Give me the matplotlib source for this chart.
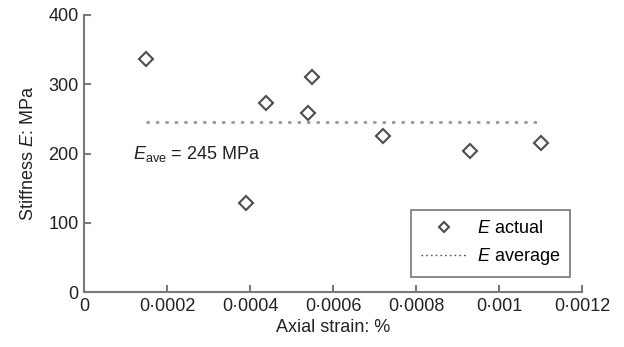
import matplotlib
matplotlib.use('Agg')
import matplotlib.pyplot as plt
from matplotlib.ticker import FuncFormatter

plt.rcParams['font.family'] = ['Liberation Sans', 'DejaVu Sans']
plt.rcParams['mathtext.fontset'] = 'custom'
plt.rcParams['mathtext.rm'] = 'Liberation Sans'
plt.rcParams['mathtext.it'] = 'Liberation Sans:italic'

# data
strain = [0.00015, 0.00039, 0.000437, 0.00054, 0.00055, 0.00072, 0.00093, 0.0011]
stiffness = [336, 128, 273, 258, 310, 226, 204, 215]
e_ave = 245
ave_x = [0.00015, 0.0011]
x_ticks = [0, 0.0002, 0.0004, 0.0006, 0.0008, 0.001, 0.0012]
y_ticks = [0, 100, 200, 300, 400]

axis_col = '#7a7a7a'
mark_col = '#4d4d4d'
txt_col = '#222222'
fs = 13

fig = plt.figure(figsize=(6.24, 3.47), dpi=100)
ax = fig.add_axes([0.135, 0.158, 0.798, 0.799])

ax.plot(strain, stiffness, linestyle='none', marker='D', markersize=7,
        markerfacecolor='white', markeredgecolor=mark_col, markeredgewidth=1.5,
        label='$E$ actual')
ax.plot(ave_x, [e_ave, e_ave], linestyle=(0, (1.2, 2.2)), color='#999999',
        linewidth=2, label='$E$ average')

ax.text(0.000118, 199, r'$E_{\mathrm{ave}}$ = %d MPa' % e_ave, fontsize=fs,
        va='center', ha='left', color=txt_col)

ax.set_xlim(0, 0.0012)
ax.set_ylim(0, 400)
ax.set_xticks(x_ticks)
ax.set_yticks(y_ticks)
ax.xaxis.set_major_formatter(FuncFormatter(lambda v, p: '0' if v == 0 else ('%g' % v).replace('.', '\u00b7')))

for s in ['top', 'right']:
    ax.spines[s].set_visible(False)
for s in ['left', 'bottom']:
    ax.spines[s].set_color(axis_col)
    ax.spines[s].set_linewidth(1.5)
ax.tick_params(direction='in', length=5, width=1.5, color=axis_col,
               labelsize=fs, labelcolor=txt_col, pad=4)

ax.set_xlabel('Axial strain: %', fontsize=fs, color=txt_col, labelpad=3)
ax.set_ylabel('Stiffness $E$: MPa', fontsize=fs, color=txt_col, labelpad=8)

leg = ax.legend(loc='lower right', bbox_to_anchor=(0.976, 0.054), borderaxespad=0,
                fontsize=fs, frameon=True, fancybox=False, handlelength=2.5,
                borderpad=0.55, labelspacing=0.5, markerscale=0.8, handletextpad=0.6)
leg.get_frame().set_edgecolor('#555555')
leg.get_frame().set_linewidth(1.2)
leg.get_lines()[1].set_linewidth(1)
leg.get_lines()[1].set_color('#555555')

fig.savefig('out.png', dpi=100)
